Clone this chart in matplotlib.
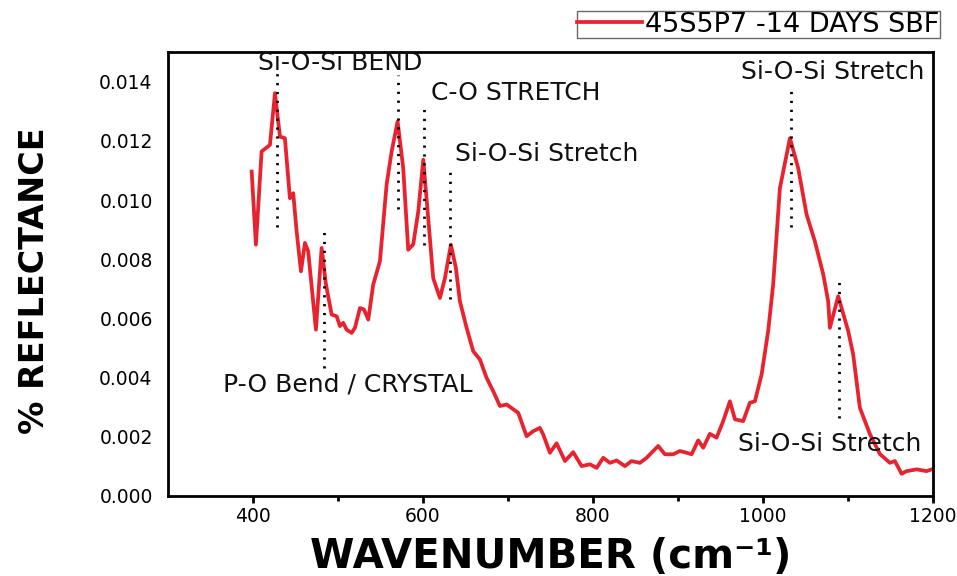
#!/usr/bin/env python3

import numpy
import matplotlib
matplotlib.use("Agg")
import matplotlib.pyplot as plt
from matplotlib.ticker import FixedLocator

#-------------------------------------------------------------
# spectrum of the 45S5P7 sample after 14 days in SBF
wavenumber = [398.5, 403.5, 410.2, 420.0, 425.9, 431.8, 437.6, 443.5, 447.4,
              451.4, 456.5, 461.2, 465.0, 474.1, 480.8, 485.9, 492.6, 498.5,
              502.4, 506.2, 510.2, 516.1, 520.0, 525.9, 530.6, 535.7, 541.5,
              549.4, 557.3, 563.2, 570.2, 576.8, 582.7, 588.6, 594.5, 600.4,
              606.2, 612.1, 620.0, 625.9, 632.9, 638.8, 643.5, 651.4, 659.2,
              667.1, 674.9, 682.7, 690.6, 698.5, 712.1, 722.0, 729.8, 737.6,
              741.5, 749.4, 757.3, 767.1, 776.8, 786.7, 796.5, 804.4, 812.1,
              820.0, 827.9, 837.6, 845.5, 855.3, 863.2, 876.8, 884.7, 894.5,
              902.4, 910.2, 916.1, 923.9, 929.8, 937.6, 945.5, 953.3, 961.2,
              967.1, 976.8, 984.7, 990.6, 998.5, 1006.2, 1012.1, 1020.0,
              1031.8, 1041.5, 1051.4, 1061.2, 1071.0, 1076.8, 1078.8, 1088.6,
              1100.4, 1106.2, 1114.1, 1125.9, 1137.6, 1149.4, 1155.3, 1163.2,
              1169.1, 1180.9, 1192.4, 1200.0]

reflectance = [0.01096, 0.00849, 0.01164, 0.01186, 0.01361, 0.01214, 0.01209,
               0.01006, 0.01023, 0.00894, 0.00759, 0.00855, 0.00827, 0.00562,
               0.00838, 0.00715, 0.00613, 0.00607, 0.00574, 0.00585, 0.00562,
               0.00551, 0.00568, 0.00635, 0.00630, 0.00596, 0.00714, 0.00793,
               0.01053, 0.01164, 0.01265, 0.01108, 0.00832, 0.00850, 0.00961,
               0.01136, 0.00939, 0.00736, 0.00669, 0.00736, 0.00849, 0.00770,
               0.00658, 0.00568, 0.00489, 0.00461, 0.00399, 0.00354, 0.00304,
               0.00309, 0.00281, 0.00202, 0.00219, 0.00230, 0.00208, 0.00146,
               0.00178, 0.00118, 0.00148, 0.00101, 0.00107, 0.00095, 0.00129,
               0.00112, 0.00120, 0.00101, 0.00118, 0.00112, 0.00129, 0.00169,
               0.00141, 0.00141, 0.00152, 0.00146, 0.00141, 0.00188, 0.00163,
               0.00210, 0.00197, 0.00253, 0.00320, 0.00259, 0.00253, 0.00315,
               0.00320, 0.00411, 0.00557, 0.00715, 0.01040, 0.01209, 0.01108,
               0.00951, 0.00860, 0.00749, 0.00658, 0.00568, 0.00675, 0.00557,
               0.00479, 0.00298, 0.00209, 0.00142, 0.00112, 0.00118, 0.00075,
               0.00084, 0.00090, 0.00084, 0.00091]

seriesName = "45S5P7 -14 DAYS SBF"

# band markers: position, dotted span
bandPos = [428.2, 570.2, 601.5, 631.8, 483.5, 1032.6, 1089.4]
bandTop = [0.0144, 0.01424, 0.01327, 0.01107, 0.0091, 0.0139, 0.00742]
bandBottom = [0.0091, 0.00968, 0.00849, 0.00664, 0.00433, 0.0091, 0.00264]

# band names and where they are written
bandNames = ["Si-O-Si BEND", "C-O STRETCH", "Si-O-Si Stretch",
             "P-O Bend / CRYSTAL", "Si-O-Si Stretch", "Si-O-Si Stretch"]
bandNameX = [503.0, 709.4, 745.3, 511.2, 1081.8, 1078.8]
bandNameY = [0.01464, 0.01360, 0.01154, 0.00378, 0.01434, 0.00175]

xTicks = [400, 600, 800, 1000, 1200]
xMinorTicks = [500, 700, 900, 1100]
yTicks = [0.000, 0.002, 0.004, 0.006, 0.008, 0.010, 0.012, 0.014]

RED = "#e8232f"

#-------------------------------------------------------------
def main():

    plt.rcParams['font.family'] = ['DejaVu Sans']

    fig = plt.figure(figsize=(9.57, 5.76), dpi=100)
    ax = fig.add_axes([0.1755, 0.1389, 0.7993, 0.7708])

    ax.plot(wavenumber, reflectance, color=RED, lw=2.7,
            solid_joinstyle="round", label=seriesName)

    #dotted markers and names of the bands
    ax.vlines(bandPos, bandBottom, bandTop, colors="black",
              linestyles=(0, (0.8, 2.4)), lw=2.0)
    for name, tx, ty in zip(bandNames, bandNameX, bandNameY):
        ax.text(tx, ty, name, ha="center", va="center", fontsize=18,
                color="#111111")

    #axes
    ax.set_xlim(300, 1200)
    ax.set_ylim(0, 0.015)
    ax.xaxis.set_major_locator(FixedLocator(xTicks))
    ax.xaxis.set_minor_locator(FixedLocator(xMinorTicks))
    ax.set_yticks(yTicks)
    ax.set_yticklabels(["{:.3f}".format(v) for v in yTicks])
    ax.tick_params(axis="x", which="major", direction="out", length=5,
                   width=2, labelsize=13.5, pad=3)
    ax.tick_params(axis="x", which="minor", direction="out", length=3.5,
                   width=2)
    ax.tick_params(axis="y", length=0, labelsize=13.5, pad=11)
    for sp in ax.spines.values():
        sp.set_linewidth(2.0)

    ax.set_xlabel("WAVENUMBER (cm\u207b\u00b9)", fontsize=29,
                  fontweight="bold")
    ax.xaxis.set_label_coords(0.5, -0.093)
    ax.xaxis.label.set_va("top")
    ax.set_ylabel("% REFLECTANCE", fontsize=24, fontweight="bold",
                  va="center")
    ax.yaxis.set_label_coords(-0.174, 0.486)

    leg = ax.legend(loc="upper right", bbox_to_anchor=(940 / 957, 1 - 11 / 576),
                    bbox_transform=fig.transFigure, fontsize=19.5,
                    frameon=True, fancybox=False, handlelength=2.4,
                    handletextpad=0.1, borderpad=0.02, borderaxespad=0)
    leg.get_frame().set_edgecolor("#444444")
    leg.get_frame().set_linewidth(1.0)

    fig.savefig("out.png", dpi=100)
    plt.close(fig)

#-------------------------------------------------------------
if __name__ == "__main__":
    main()
